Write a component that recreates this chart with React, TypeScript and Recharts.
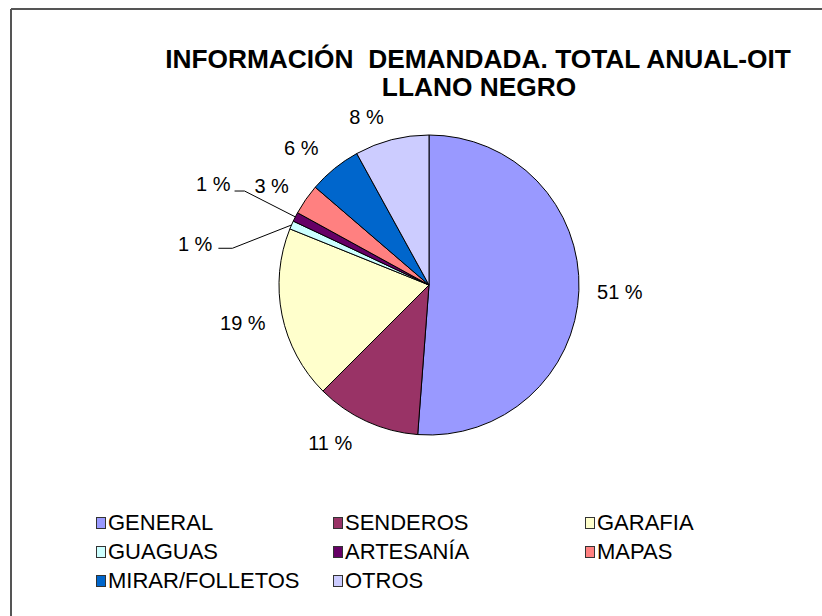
import React from 'react';
import { PieChart, Pie, Cell, Legend } from 'recharts';

const categories = ['GENERAL', 'SENDEROS', 'GARAFIA', 'GUAGUAS', 'ARTESANÍA', 'MAPAS', 'MIRAR/FOLLETOS', 'OTROS'];
const values = [51.2, 11.3, 18.6, 0.9, 1.0, 3.3, 5.7, 8.0];
const colors = ['#9999FF', '#993366', '#FFFFCC', '#CCFFFF', '#660066', '#FF8080', '#0066CC', '#CCCCFF'];
const titleLines = ['INFORMACIÓN  DEMANDADA. TOTAL ANUAL-OIT', 'LLANO NEGRO'];

const data = categories.map((name, i) => ({ name, value: values[i] }));

const FONT = '"Liberation Sans", Arial, sans-serif';
const RAD = Math.PI / 180;
// leader-line layout for the tiny slices (in order of appearance)
const leaderSpecs = [
  { shift: 13, ext: 50, len: 14, dy: -4, gap: 6 },
  { shift: 0, ext: 57, len: 10, dy: -7, gap: 4 },
];
// best-fit label placement tweaks: [angle shift in degrees, extra radius]
const labelTweaks: Record<number, [number, number]> = {
  0: [0, 41],
  1: [-7.4, 36],
  2: [0, 40],
  5: [2.5, 36],
  6: [4, 37],
  7: [6, 29],
};

const renderLabel = (props: any) => {
  const { cx, cy, midAngle, outerRadius, percent, index } = props;
  const text = `${Math.round(percent * 100)} %`;
  if (percent < 0.015) {
    let rank = 0;
    const total = values.reduce((a, b) => a + b, 0);
    for (let i = 0; i < index; i++) {
      if (values[i] / total < 0.015) rank++;
    }
    const spec = leaderSpecs[Math.min(rank, leaderSpecs.length - 1)];
    const sx = cx + outerRadius * Math.cos(-midAngle * RAD);
    const sy = cy + outerRadius * Math.sin(-midAngle * RAD);
    const ea = midAngle + spec.shift;
    const er = outerRadius + spec.ext;
    const ex = cx + er * Math.cos(-ea * RAD);
    const ey = cy + er * Math.sin(-ea * RAD);
    const hx = ex - spec.len;
    return (
      <g key={`lbl-${index}`}>
        <polyline points={`${sx},${sy} ${ex},${ey} ${hx},${ey}`} stroke="#000" strokeWidth={1} fill="none" />
        <text x={hx - spec.gap} y={ey + spec.dy} textAnchor="end" dominantBaseline="central" fontSize={20} fontFamily={FONT} fill="#000">
          {text}
        </text>
      </g>
    );
  }
  const [da, dr] = labelTweaks[index] ?? [0, 38];
  const r = outerRadius + dr;
  const a = midAngle + da;
  const x = cx + r * Math.cos(-a * RAD);
  const y = cy + r * Math.sin(-a * RAD);
  return (
    <text key={`lbl-${index}`} x={x} y={y} textAnchor="middle" dominantBaseline="central" fontSize={20} fontFamily={FONT} fill="#000">
      {text}
    </text>
  );
};

const renderLegend = () => (
  <div
    style={{
      display: 'grid',
      gridTemplateColumns: '237px 252px 200px',
      gridAutoRows: '29px',
      fontFamily: FONT,
      fontSize: 22,
      color: '#000',
    }}
  >
    {categories.map((c, i) => (
      <div key={c} style={{ display: 'flex', alignItems: 'center', whiteSpace: 'nowrap' }}>
        <span
          style={{
            display: 'inline-block',
            width: 8,
            height: 10,
            background: colors[i],
            border: '1px solid #333',
            marginRight: 2,
          }}
        />
        <span>{c}</span>
      </div>
    ))}
  </div>
);

export default function App() {
  return (
    <div style={{ position: 'absolute', left: 0, top: 0, width: 822, height: 616, background: '#fff' }}>
      <svg width={822} height={616} style={{ position: 'absolute', left: 0, top: 0 }}>
        <line x1={11} y1={9} x2={822} y2={9} stroke="#555" strokeWidth={2} />
        <line x1={11} y1={9} x2={11} y2={616} stroke="#555" strokeWidth={2} />
        <text x={478} y={68} textAnchor="middle" fontSize={26.3} fontWeight="bold" fontFamily={FONT} fill="#000" style={{ whiteSpace: 'pre' }}>
          {titleLines[0]}
        </text>
        <text x={479} y={96} textAnchor="middle" fontSize={26.3} fontWeight="bold" fontFamily={FONT} fill="#000">
          {titleLines[1]}
        </text>
      </svg>
      <div style={{ position: 'absolute', left: 0, top: 0 }}>
        <PieChart width={822} height={616} margin={{ top: 0, right: 0, bottom: 0, left: 0 }}>
          <Pie
            data={data}
            dataKey="value"
            nameKey="name"
            cx={429}
            cy={285}
            outerRadius={150}
            startAngle={90}
            endAngle={-270}
            stroke="#000"
            strokeWidth={1}
            label={renderLabel}
            labelLine={false}
            isAnimationActive={false}
          >
            {data.map((d, i) => (
              <Cell key={d.name} fill={colors[i]} />
            ))}
          </Pie>
          <Legend
            content={renderLegend}
            wrapperStyle={{ position: 'absolute', left: 96, top: 508, width: 720, bottom: 'auto' }}
          />
        </PieChart>
      </div>
    </div>
  );
}
